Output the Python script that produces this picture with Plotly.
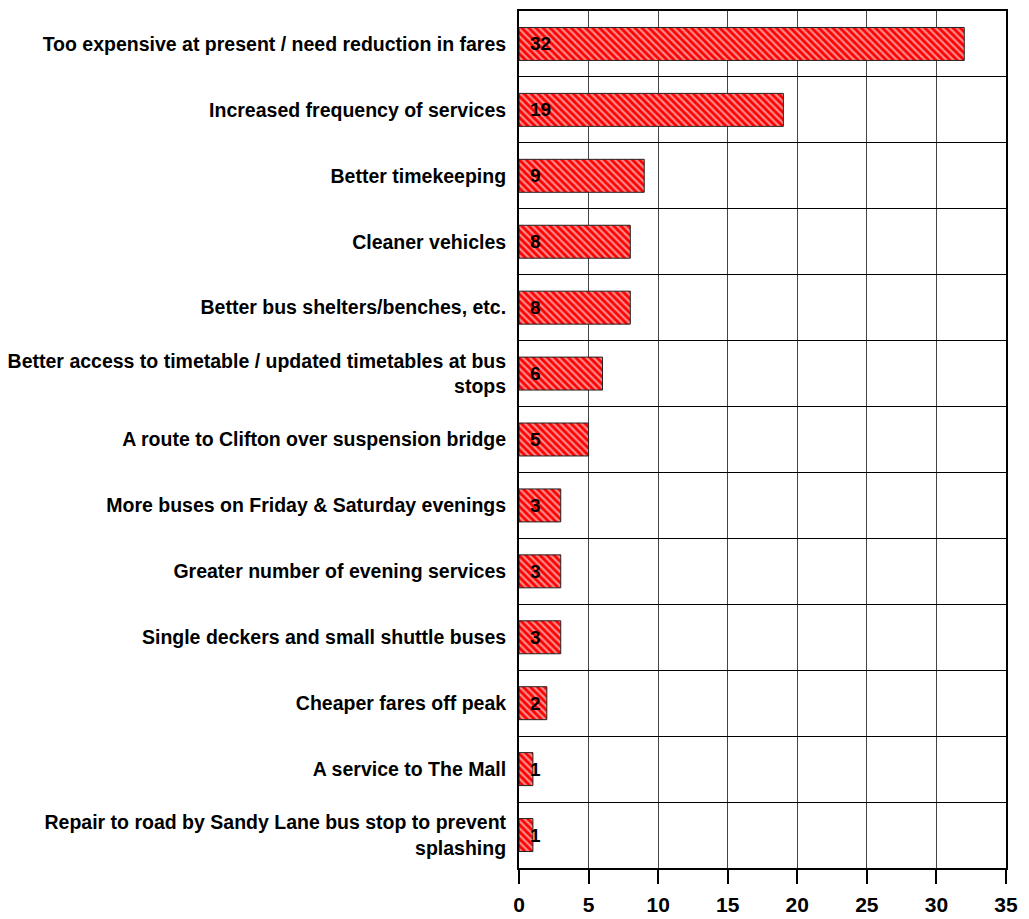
import plotly.graph_objects as go

categories = [
    "Too expensive at present / need reduction in fares",
    "Increased frequency of services",
    "Better timekeeping",
    "Cleaner vehicles",
    "Better bus shelters/benches, etc.",
    "Better access to timetable / updated timetables at bus<br>stops",
    "A route to Clifton over suspension bridge",
    "More buses on Friday & Saturday evenings",
    "Greater number of evening services",
    "Single deckers and small shuttle buses",
    "Cheaper fares off peak",
    "A service to The Mall",
    "Repair to road by Sandy Lane bus stop to prevent<br>splashing",
]
values = [32, 19, 9, 8, 8, 6, 5, 3, 3, 3, 2, 1, 1]
x_ticks = [0, 5, 10, 15, 20, 25, 30, 35]

FONT = "Arial, Liberation Sans, sans-serif"

fig = go.Figure()
fig.add_trace(go.Bar(
    y=categories,
    x=values,
    orientation="h",
    width=0.5,
    marker=dict(
        color="#ff0000",
        line=dict(color="#222222", width=1),
        pattern=dict(shape="\\", fgcolor="#ff0000", bgcolor="#ff8a8a",
                     size=5, solidity=0.55, fillmode="replace"),
    ),
    hoverinfo="x+y",
))

annotations = []
for c, v in zip(categories, values):
    annotations.append(dict(
        x=0, y=c, xref="x", yref="y", text=str(v), showarrow=False,
        xanchor="left", yanchor="middle", xshift=9,
        font=dict(family=FONT, size=19, color="black", weight="bold"),
    ))

fig.update_layout(
    width=1029, height=919,
    margin=dict(l=511, r=31, t=3, b=59, autoexpand=False),
    paper_bgcolor="white", plot_bgcolor="white",
    showlegend=False,
    annotations=annotations,
    font=dict(family=FONT, color="black"),
)
fig.update_xaxes(
    range=[0, 35], tickvals=x_ticks, ticktext=[str(t) for t in x_ticks],
    showgrid=True, gridcolor="#444444", gridwidth=1,
    showline=True, linecolor="black", linewidth=2, mirror=True,
    ticks="outside", ticklen=14, tickcolor="black", tickwidth=2,
    ticklabelstandoff=3, automargin=False,
    tickfont=dict(size=21, weight="bold", color="black"),
    zeroline=False,
)
fig.update_yaxes(
    type="category", autorange="reversed",
    tickson="boundaries", showgrid=True, gridcolor="black", gridwidth=1,
    showline=True, linecolor="black", linewidth=2, mirror=True,
    ticks="", ticklabelstandoff=7, automargin=False,
    tickfont=dict(size=19.5, weight="bold", color="black"),
)

fig.write_html("out.html")
